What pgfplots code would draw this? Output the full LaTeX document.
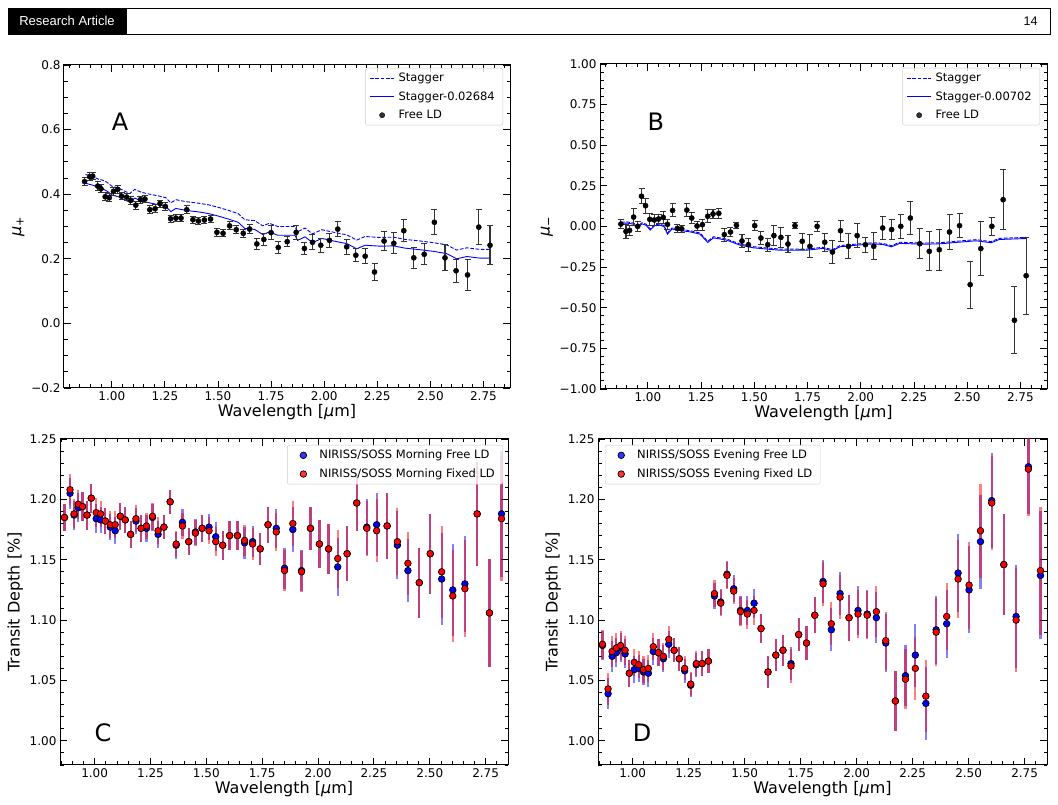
\documentclass[border=0pt]{standalone}
\usepackage{pgfplots}
\pgfplotsset{compat=1.18}
\usepackage{pgfplotstable}
\usepackage{fontspec}
\setmainfont{DejaVu Sans}
\newfontfamily\headfont{Liberation Sans}

\definecolor{mplblue}{RGB}{0,0,255}
\definecolor{mplred}{RGB}{255,0,0}
\newcommand{\fs}[2]{\fontsize{#1}{#2}\selectfont}

% ---------- mu_+ : free limb darkening fit ----------
\pgfplotstableread{
x y e
0.872 0.439 0.012
0.896 0.454 0.013
0.910 0.456 0.012
0.934 0.425 0.013
0.949 0.417 0.012
0.969 0.392 0.013
0.988 0.389 0.013
1.008 0.409 0.012
1.028 0.415 0.012
1.046 0.394 0.011
1.070 0.391 0.011
1.090 0.381 0.012
1.113 0.366 0.012
1.135 0.383 0.011
1.156 0.385 0.011
1.179 0.352 0.012
1.204 0.355 0.012
1.227 0.371 0.011
1.252 0.362 0.011
1.277 0.324 0.011
1.302 0.326 0.011
1.326 0.326 0.011
1.353 0.352 0.012
1.382 0.321 0.011
1.408 0.317 0.011
1.436 0.320 0.011
1.465 0.323 0.012
1.495 0.282 0.012
1.524 0.279 0.011
1.555 0.302 0.012
1.586 0.290 0.012
1.619 0.279 0.013
1.649 0.292 0.014
1.683 0.246 0.017
1.716 0.260 0.018
1.750 0.281 0.022
1.784 0.235 0.018
1.826 0.253 0.016
1.868 0.282 0.022
1.907 0.232 0.018
1.945 0.251 0.023
1.984 0.242 0.022
2.025 0.257 0.021
2.064 0.292 0.024
2.106 0.237 0.023
2.149 0.211 0.020
2.193 0.208 0.023
2.237 0.159 0.027
2.282 0.255 0.029
2.328 0.248 0.032
2.375 0.287 0.034
2.422 0.203 0.033
2.471 0.214 0.033
2.519 0.313 0.039
2.569 0.203 0.040
2.621 0.163 0.035
2.675 0.150 0.049
2.728 0.298 0.055
2.781 0.242 0.061
}\tabA

% Stagger model and Stagger - 0.02684
\pgfplotstableread{
x s sm
0.876 0.461 0.434
0.915 0.454 0.427
0.938 0.446 0.419
0.954 0.444 0.417
0.977 0.437 0.410
1.000 0.425 0.398
1.031 0.419 0.392
1.062 0.409 0.382
1.085 0.402 0.375
1.108 0.415 0.388
1.139 0.406 0.379
1.178 0.400 0.373
1.224 0.394 0.367
1.255 0.389 0.362
1.278 0.373 0.346
1.302 0.383 0.356
1.348 0.377 0.350
1.410 0.372 0.345
1.456 0.367 0.340
1.503 0.359 0.332
1.549 0.350 0.323
1.595 0.340 0.313
1.626 0.321 0.294
1.673 0.318 0.291
1.711 0.302 0.275
1.742 0.310 0.283
1.781 0.300 0.273
1.832 0.300 0.273
1.862 0.300 0.273
1.875 0.284 0.257
1.910 0.295 0.268
1.945 0.277 0.250
1.989 0.290 0.263
2.067 0.279 0.252
2.107 0.274 0.247
2.153 0.258 0.231
2.193 0.269 0.242
2.263 0.266 0.239
2.326 0.267 0.240
2.381 0.260 0.233
2.452 0.255 0.228
2.515 0.250 0.223
2.577 0.243 0.216
2.624 0.227 0.200
2.672 0.234 0.207
2.734 0.229 0.202
2.781 0.229 0.202
}\stagA

% ---------- mu_- : free limb darkening fit ----------
\pgfplotstableread{
x y e
0.873 0.015 0.030
0.897 -0.030 0.045
0.914 -0.024 0.030
0.933 0.058 0.050
0.952 0.001 0.030
0.970 0.186 0.045
0.989 0.128 0.045
1.009 0.044 0.035
1.030 0.040 0.035
1.050 0.046 0.030
1.072 0.056 0.035
1.092 0.013 0.030
1.116 0.099 0.040
1.138 -0.012 0.025
1.159 -0.014 0.020
1.183 0.101 0.040
1.206 0.052 0.035
1.231 0.003 0.025
1.256 0.011 0.035
1.281 0.063 0.040
1.306 0.077 0.030
1.333 0.081 0.030
1.359 -0.050 0.040
1.388 -0.034 0.025
1.416 0.007 0.020
1.442 -0.089 0.040
1.472 -0.112 0.040
1.502 0.005 0.030
1.531 -0.071 0.040
1.563 -0.112 0.040
1.592 -0.056 0.060
1.625 -0.067 0.060
1.658 -0.108 0.050
1.691 0.005 0.020
1.725 -0.091 0.050
1.761 -0.122 0.070
1.795 0.001 0.030
1.831 -0.097 0.055
1.867 -0.157 0.073
1.905 -0.026 0.065
1.942 -0.122 0.077
1.983 -0.056 0.075
2.022 -0.112 0.045
2.061 -0.122 0.082
2.103 -0.009 0.068
2.145 -0.019 0.060
2.188 0.001 0.072
2.233 0.052 0.100
2.277 -0.106 0.094
2.322 -0.153 0.120
2.369 -0.143 0.125
2.417 -0.034 0.110
2.464 0.005 0.072
2.514 -0.358 0.144
2.564 -0.136 0.164
2.616 0.001 0.054
2.669 0.165 0.185
2.722 -0.577 0.205
2.777 -0.303 0.236
}\tabB

% Stagger model and Stagger - 0.00702
\pgfplotstableread{
x s sm
0.873 0.026 0.019
0.902 0.028 0.021
0.933 0.021 0.014
0.952 -0.001 -0.008
0.972 0.023 0.016
0.991 0.015 0.008
1.011 -0.015 -0.022
1.031 0.011 0.004
1.058 0.015 0.008
1.077 0.005 -0.002
1.092 -0.040 -0.047
1.113 -0.009 -0.016
1.152 -0.018 -0.025
1.198 -0.026 -0.033
1.245 -0.040 -0.047
1.281 -0.091 -0.098
1.308 -0.063 -0.070
1.370 -0.077 -0.084
1.433 -0.108 -0.115
1.495 -0.124 -0.131
1.558 -0.132 -0.139
1.620 -0.139 -0.146
1.691 -0.139 -0.146
1.745 -0.139 -0.146
1.823 -0.128 -0.135
1.866 -0.143 -0.150
1.902 -0.118 -0.125
1.980 -0.108 -0.115
2.058 -0.100 -0.107
2.105 -0.104 -0.111
2.144 -0.118 -0.125
2.183 -0.097 -0.104
2.292 -0.102 -0.109
2.370 -0.100 -0.107
2.448 -0.091 -0.098
2.542 -0.081 -0.088
2.612 -0.093 -0.100
2.651 -0.073 -0.080
2.777 -0.067 -0.074
}\stagB

% ---------- morning limb transit depths ----------
\pgfplotstableread{
x b r e
0.865 1.185 1.185 0.011
0.890 1.205 1.208 0.013
0.908 1.187 1.188 0.012
0.927 1.193 1.196 0.012
0.946 1.194 1.194 0.012
0.966 1.187 1.187 0.012
0.985 1.201 1.201 0.012
1.007 1.184 1.189 0.012
1.027 1.183 1.188 0.011
1.048 1.182 1.182 0.011
1.070 1.177 1.179 0.011
1.092 1.174 1.179 0.011
1.115 1.186 1.186 0.011
1.137 1.183 1.183 0.011
1.161 1.171 1.171 0.011
1.185 1.182 1.184 0.011
1.208 1.176 1.176 0.011
1.232 1.176 1.178 0.011
1.259 1.185 1.186 0.011
1.284 1.171 1.174 0.011
1.310 1.177 1.177 0.010
1.338 1.198 1.198 0.010
1.365 1.162 1.163 0.011
1.393 1.181 1.178 0.011
1.421 1.165 1.165 0.011
1.451 1.173 1.172 0.011
1.481 1.176 1.176 0.011
1.512 1.177 1.174 0.011
1.542 1.169 1.165 0.012
1.573 1.162 1.162 0.012
1.604 1.170 1.170 0.012
1.639 1.170 1.170 0.012
1.671 1.164 1.166 0.013
1.707 1.165 1.163 0.013
1.741 1.159 1.159 0.013
1.776 1.179 1.179 0.015
1.813 1.176 1.173 0.016
1.850 1.143 1.141 0.017
1.887 1.175 1.180 0.019
1.926 1.141 1.140 0.017
1.966 1.176 1.176 0.018
2.006 1.163 1.163 0.020
2.047 1.159 1.159 0.021
2.088 1.144 1.151 0.024
2.130 1.155 1.155 0.023
2.173 1.197 1.197 0.023
2.218 1.177 1.176 0.023
2.262 1.179 1.174 0.026
2.309 1.178 1.178 0.027
2.355 1.162 1.165 0.028
2.402 1.141 1.147 0.026
2.453 1.131 1.131 0.029
2.502 1.155 1.155 0.033
2.553 1.134 1.140 0.038
2.603 1.125 1.120 0.038
2.657 1.130 1.126 0.040
2.712 1.188 1.188 0.043
2.767 1.106 1.106 0.045
2.821 1.188 1.184 0.052
}\tabC

% ---------- evening limb transit depths ----------
\pgfplotstableread{
x b r e
0.865 1.079 1.080 0.012
0.890 1.039 1.043 0.013
0.908 1.070 1.074 0.013
0.927 1.073 1.077 0.012
0.946 1.077 1.079 0.012
0.966 1.072 1.075 0.012
0.985 1.056 1.056 0.011
1.007 1.059 1.065 0.011
1.027 1.060 1.063 0.011
1.048 1.057 1.059 0.011
1.070 1.056 1.060 0.011
1.092 1.074 1.078 0.011
1.115 1.073 1.073 0.011
1.137 1.068 1.070 0.011
1.161 1.080 1.084 0.011
1.185 1.075 1.075 0.010
1.208 1.068 1.068 0.010
1.232 1.058 1.060 0.010
1.259 1.046 1.047 0.010
1.284 1.063 1.064 0.010
1.310 1.064 1.064 0.010
1.338 1.066 1.066 0.010
1.365 1.120 1.122 0.011
1.393 1.115 1.114 0.011
1.421 1.138 1.137 0.011
1.451 1.126 1.124 0.011
1.481 1.108 1.107 0.012
1.512 1.108 1.105 0.012
1.542 1.114 1.108 0.012
1.573 1.093 1.093 0.012
1.604 1.057 1.057 0.013
1.639 1.071 1.071 0.013
1.671 1.075 1.075 0.013
1.707 1.064 1.062 0.014
1.741 1.088 1.088 0.014
1.776 1.081 1.081 0.014
1.813 1.104 1.104 0.015
1.850 1.132 1.130 0.018
1.887 1.092 1.097 0.018
1.926 1.122 1.119 0.018
1.966 1.102 1.102 0.019
2.006 1.108 1.105 0.020
2.047 1.105 1.104 0.020
2.088 1.102 1.107 0.021
2.130 1.081 1.083 0.024
2.173 1.033 1.033 0.025
2.218 1.054 1.051 0.025
2.262 1.071 1.060 0.026
2.309 1.031 1.037 0.030
2.355 1.092 1.090 0.028
2.402 1.097 1.103 0.028
2.453 1.139 1.134 0.032
2.502 1.125 1.129 0.036
2.553 1.165 1.174 0.039
2.603 1.199 1.197 0.039
2.657 1.146 1.146 0.042
2.712 1.103 1.100 0.043
2.767 1.227 1.225 0.039
2.821 1.137 1.141 0.053
}\tabD

\pgfplotsset{
  panel/.style={
    scale only axis,
    anchor=south west,
    axis line style={line width=1pt, black},
    tick align=inside,
    xtick pos=both, ytick pos=both,
    major tick length=7pt,
    minor tick length=3.5pt,
    tick style={black, line width=0.9pt},
    tick label style={font=\fs{12}{14}},
    label style={font=\fs{16}{19}},
    xlabel={Wavelength [\textit{μ}m]},
    xlabel style={yshift=3pt},
    legend cell align=left,
    legend style={font=\fs{11.5}{13}, draw=black!20, rounded corners=2pt,
      fill=white, fill opacity=0.8, text opacity=1,
      inner xsep=4pt, inner ysep=3pt, row sep=4.5pt,
      nodes={inner xsep=4pt}},
  },
  muxaxis/.style={
    xmin=0.775, xmax=2.875,
    xtick={1,1.25,1.5,1.75,2,2.25,2.5,2.75},
    xticklabels={1.00,1.25,1.50,1.75,2.00,2.25,2.50,2.75},
    minor xtick={0.8,0.85,...,2.86},
  },
  tdaxis/.style={
    xmin=0.845, xmax=2.85,
    ymin=0.98, ymax=1.25,
    xtick={1,1.25,1.5,1.75,2,2.25,2.5,2.75},
    xticklabels={1.00,1.25,1.50,1.75,2.00,2.25,2.50,2.75},
    minor xtick={0.85,0.9,...,2.86},
    ytick={1,1.05,1.1,1.15,1.2,1.25},
    yticklabels={1.00,1.05,1.10,1.15,1.20,1.25},
    minor ytick={0.98,0.99,...,1.255},
    ylabel={Transit Depth [\%]},
  },
  lineleg/.style={legend image code/.code={\draw[##1] (0pt,0pt) -- (24pt,0pt);}},
  markleg/.style={legend image code/.code={%
    \path[draw=none,fill=none] (0pt,-1pt) rectangle (24pt,1pt);%
    \draw[##1] plot coordinates {(12pt,0pt)};}},
  freeld/.style={only marks, mark=*, mark size=2.6pt, black, markleg,
    error bars/.cd, y dir=both, y explicit,
    error bar style={line width=1.1pt, black!80},
    error mark options={rotate=90, mark size=3pt, line width=1pt, black!80}},
  redbars/.style={only marks, mark=none, forget plot,
    error bars/.cd, y dir=both, y explicit, error mark=none,
    error bar style={line width=2.2pt, mplred, opacity=0.5}},
  bluebars/.style={only marks, mark=none, forget plot,
    error bars/.cd, y dir=both, y explicit, error mark=none,
    error bar style={line width=2.2pt, mplblue, opacity=0.5}},
  bluedots/.style={only marks, mark=*, mark size=3.3pt,
    mark options={fill=mplblue, draw=black, line width=0.7pt}, markleg},
  reddots/.style={only marks, mark=*, mark size=3.3pt,
    mark options={fill=mplred, draw=black, line width=0.7pt}, markleg},
}

\begin{document}
\begin{tikzpicture}
\useasboundingbox[fill=white] (0pt,0pt) rectangle (1058pt,805pt);

% running head
\draw[line width=0.8pt] (8pt,771pt) rectangle (1050pt,797pt);
\fill[black] (8pt,771pt) rectangle (127pt,797pt);
\node[text=white, font=\headfont\fs{13}{15}] at (67pt,784pt) {Research Article};
\node[anchor=east, font=\headfont\fs{12.5}{15}] at (1041pt,784pt) {14};

% ---------- A ----------
\begin{axis}[panel, muxaxis,
  at={(64pt,417pt)}, width=446pt, height=323pt,
  ymin=-0.2, ymax=0.8,
  ytick={-0.2,0,0.2,0.4,0.6,0.8},
  yticklabels={−0.2,0.0,0.2,0.4,0.6,0.8},
  minor ytick={-0.2,-0.15,...,0.81},
  ylabel={\textit{μ}\textsubscript{+}},
  legend style={at={(1,1)}, anchor=north east, xshift=-7pt, yshift=-3pt},
]
\addplot[mplblue, line width=0.9pt, dash pattern=on 3.7pt off 1.6pt, lineleg] table[x=x,y=s]{\stagA};
\addlegendentry{Stagger}
\addplot[mplblue, line width=0.9pt, lineleg] table[x=x,y=sm]{\stagA};
\addlegendentry{Stagger-0.02684}
\addplot[freeld] table[x=x,y=y,y error=e]{\tabA};
\addlegendentry{Free LD}
\node[font=\fs{24}{28}] at (rel axis cs:0.126,0.824) {A};
\end{axis}

% ---------- B ----------
\begin{axis}[panel, muxaxis,
  at={(600pt,416pt)}, width=447pt, height=325pt,
  ymin=-1, ymax=1,
  ytick={-1,-0.75,-0.5,-0.25,0,0.25,0.5,0.75,1},
  yticklabels={−1.00,−0.75,−0.50,−0.25,0.00,0.25,0.50,0.75,1.00},
  minor ytick={-1,-0.95,...,1.01},
  ylabel={\textit{μ}\textsubscript{−}},
  legend style={at={(1,1)}, anchor=north east, xshift=-7pt, yshift=-4pt},
]
\addplot[mplblue, line width=0.9pt, dash pattern=on 3.7pt off 1.6pt, lineleg] table[x=x,y=s]{\stagB};
\addlegendentry{Stagger}
\addplot[mplblue, line width=0.9pt, lineleg] table[x=x,y=sm]{\stagB};
\addlegendentry{Stagger-0.00702}
\addplot[freeld] table[x=x,y=y,y error=e]{\tabB};
\addlegendentry{Free LD}
\node[font=\fs{24}{28}] at (rel axis cs:0.125,0.822) {B};
\end{axis}

% ---------- C ----------
\begin{axis}[panel, tdaxis,
  at={(60pt,40pt)}, width=448pt, height=326pt,
  legend style={at={(1,1)}, anchor=north east, xshift=-5pt, yshift=-6pt},
]
\addplot[bluebars] table[x=x,y=b,y error=e]{\tabC};
\addplot[redbars] table[x=x,y=r,y error=e]{\tabC};
\addplot[bluedots] table[x=x,y=b]{\tabC};
\addlegendentry{NIRISS/SOSS Morning Free LD}
\addplot[reddots] table[x=x,y=r]{\tabC};
\addlegendentry{NIRISS/SOSS Morning Fixed LD}
\node[font=\fs{24}{28}] at (rel axis cs:0.096,0.098) {C};
\end{axis}

% ---------- D ----------
\begin{axis}[panel, tdaxis,
  at={(598pt,40pt)}, width=449pt, height=326pt,
  legend style={at={(0,1)}, anchor=north west, xshift=7pt, yshift=-6pt},
]
\addplot[bluebars] table[x=x,y=b,y error=e]{\tabD};
\addplot[redbars] table[x=x,y=r,y error=e]{\tabD};
\addplot[bluedots] table[x=x,y=b]{\tabD};
\addlegendentry{NIRISS/SOSS Evening Free LD}
\addplot[reddots] table[x=x,y=r]{\tabD};
\addlegendentry{NIRISS/SOSS Evening Fixed LD}
\node[font=\fs{24}{28}] at (rel axis cs:0.098,0.098) {D};
\end{axis}
\end{tikzpicture}
\end{document}
